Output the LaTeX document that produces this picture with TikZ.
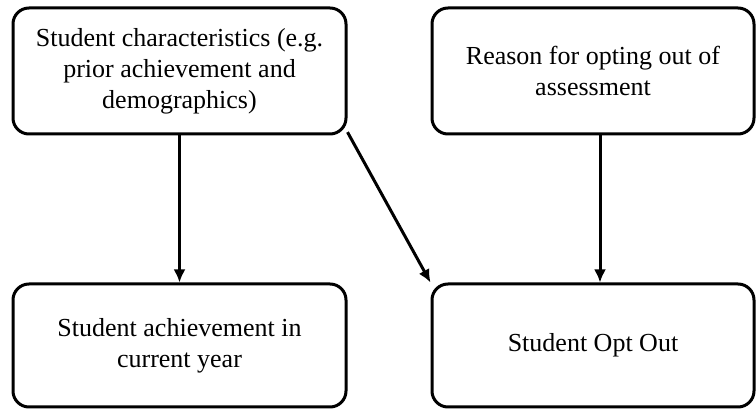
\documentclass[tikz,border=0pt]{standalone}
\usepackage{fontspec}
\setmainfont{Liberation Serif}
\usetikzlibrary{positioning,arrows.meta}
\tikzset{factor/.style = {draw, rectangle, rounded corners=16pt, line width=3pt, align=center, minimum width=333pt, minimum height=126pt, font=\fontsize{26}{31}\selectfont}}
\tikzset{wide/.style = {minimum width=322pt}}
\tikzset{low/.style = {minimum height=123pt}}

\begin{document}
\begin{tikzpicture}[x=1pt, y=1pt, >={Latex[length=13pt,width=12pt]}, on grid, line width=3pt]
  \useasboundingbox (0,0) rectangle (756,410);
  \node [factor] (chars) at (179.5,339) {Student characteristics (e.g.\\ prior achievement and\\ demographics)};
  \node [factor, wide, right=413.5pt of chars] (reason) {Reason for opting out of\\ assessment};
  \node [factor, low, below=274.5pt of chars] (achieve) {Student achievement in\\ current year};
  \node [factor, wide, low, below=274.5pt of reason] (optout) {Student Opt Out};
  \draw[->] (chars) -- (achieve);
  \draw[->] ([xshift=7pt]reason.south) -- ([xshift=7pt]optout.north);
  \draw[->] (chars.-20) -- (optout.north west);
\end{tikzpicture}
\end{document}
